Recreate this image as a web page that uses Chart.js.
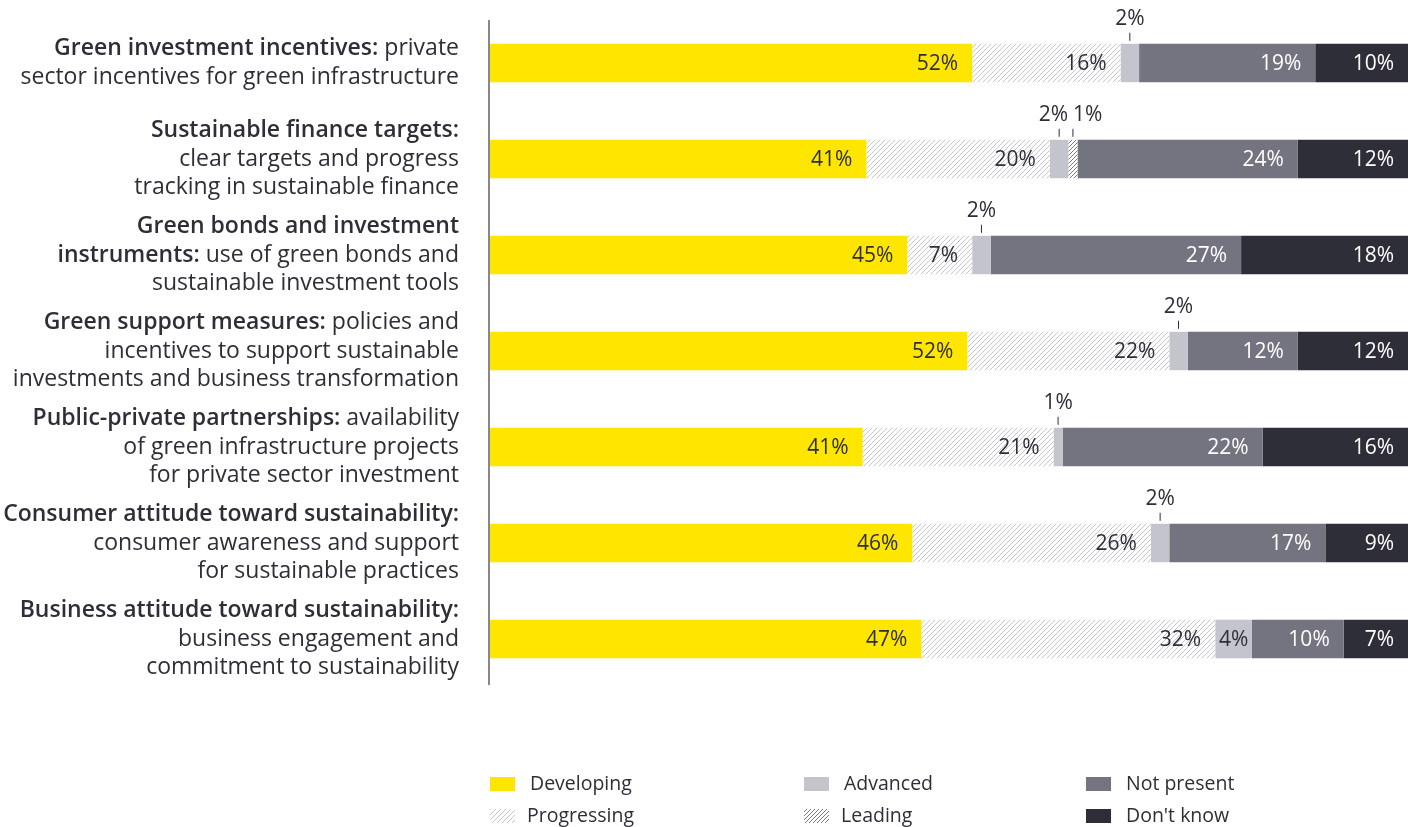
<!DOCTYPE html>
<html>
<head>
<meta charset="utf-8">
<script src="https://cdn.jsdelivr.net/npm/chart.js@4.4.0/dist/chart.umd.min.js"></script>
<style>
  html, body { margin: 0; padding: 0; background: #fff; }
  #wrap { width: 1421px; height: 827px; position: relative; }
</style>
</head>
<body>
<div id="wrap"><canvas id="chart"></canvas></div>
<script>
// categories (bold part first, then regular text), one array of lines per row
const categories = [
  'Green investment incentives',
  'Sustainable finance targets',
  'Green bonds and investment instruments',
  'Green support measures',
  'Public-private partnerships',
  'Consumer attitude toward sustainability',
  'Business attitude toward sustainability'
];
const categoryLines = [
  [['Green investment incentives:', ' private'], ['', 'sector incentives for green infrastructure']],
  [['Sustainable finance targets:', ''], ['', 'clear targets and progress'], ['', 'tracking in sustainable finance']],
  [['Green bonds and investment', ''], ['instruments:', ' use of green bonds and'], ['', 'sustainable investment tools']],
  [['Green support measures:', ' policies and'], ['', 'incentives to support sustainable'], ['', 'investments and business transformation']],
  [['Public-private partnerships:', ' availability'], ['', 'of green infrastructure projects'], ['', 'for private sector investment']],
  [['Consumer attitude toward sustainability:', ''], ['', 'consumer awareness and support'], ['', 'for sustainable practices']],
  [['Business attitude toward sustainability:', ''], ['', 'business engagement and'], ['', 'commitment to sustainability']]
];

// series values (%)
const seriesNames = ['Developing', 'Progressing', 'Advanced', 'Leading', 'Not present', "Don't know"];
const developing  = [52, 41, 45, 52, 41, 46, 47];
const progressing = [16, 20, 7, 22, 21, 26, 32];
const advanced    = [2, 2, 2, 2, 1, 2, 4];
const leading     = [0, 1, 0, 0, 0, 0, 0];
const notPresent  = [19, 24, 27, 12, 22, 17, 10];
const dontKnow    = [10, 12, 18, 12, 16, 9, 7];

const allSeries = [developing, progressing, advanced, leading, notPresent, dontKnow];

// rounded shares don't always add up to 100, so each bar is drawn as share of its row total
const rowTotals = categories.map((c, i) => allSeries.reduce((s, arr) => s + arr[i], 0));

const TEXT = '#2e2e38';
const FONT = '"Open Sans", "Noto Sans", sans-serif';

function hatch(lineColor, step) {
  const c = document.createElement('canvas');
  c.width = step; c.height = step;
  const x = c.getContext('2d');
  x.fillStyle = '#ffffff';
  x.fillRect(0, 0, step, step);
  x.strokeStyle = lineColor;
  x.lineWidth = 1;
  x.beginPath();
  x.moveTo(0, step); x.lineTo(step, 0);
  x.moveTo(-1, 1); x.lineTo(1, -1);
  x.moveTo(step - 1, step + 1); x.lineTo(step + 1, step - 1);
  x.stroke();
  return x.createPattern(c, 'repeat');
}

const colors = [
  '#ffe600',
  hatch('#c4c4cc', 5),
  '#c4c4cd',
  hatch('#7a7a86', 4),
  '#747480',
  '#2e2e38'
];
const labelColors = [TEXT, TEXT, TEXT, TEXT, '#ffffff', '#ffffff'];

// draws the wrapped category text left of the axis
const categoryLabels = {
  id: 'categoryLabels',
  afterDraw(chart) {
    const ctx = chart.ctx;
    const yScale = chart.scales.y;
    const right = chart.chartArea.left - 31;
    const lineH = 28.5;
    const bold = '600 23px ' + FONT;
    const reg = '400 23px ' + FONT;
    ctx.save();
    ctx.textBaseline = 'middle';
    ctx.textAlign = 'left';
    categoryLines.forEach((lines, i) => {
      const cy = yScale.getPixelForValue(i);
      lines.forEach((ln, j) => {
        const y = cy + (j - (lines.length - 1) / 2) * lineH;
        ctx.font = bold;
        const wb = ctx.measureText(ln[0]).width;
        ctx.font = reg;
        const wr = ctx.measureText(ln[1]).width;
        const x = right - wb - wr;
        ctx.fillStyle = TEXT;
        ctx.font = bold;
        ctx.fillText(ln[0], x, y);
        ctx.font = reg;
        ctx.fillText(ln[1], x + wb, y);
      });
    });
    // axis line
    ctx.strokeStyle = '#3a3a3a';
    ctx.lineWidth = 1.2;
    ctx.beginPath();
    ctx.moveTo(chart.chartArea.left - 1, 20);
    ctx.lineTo(chart.chartArea.left - 1, 685);
    ctx.stroke();
    ctx.restore();
  }
};

// value labels inside the segments, small ones above with a tick
const valueLabels = {
  id: 'valueLabels',
  afterDatasetsDraw(chart) {
    const ctx = chart.ctx;
    ctx.save();
    ctx.textBaseline = 'middle';
    chart.data.datasets.forEach((ds, d) => {
      const meta = chart.getDatasetMeta(d);
      meta.data.forEach((el, i) => {
        const v = allSeries[d][i];
        if (!v) return;
        const left = el.base, right = el.x;
        const w = right - left;
        const txt = v + '%';
        if (v <= 2) {
          const cx = (left + right) / 2;
          const top = el.y - el.height / 2;
          ctx.strokeStyle = TEXT;
          ctx.lineWidth = 1;
          ctx.beginPath();
          ctx.moveTo(cx, top - 11);
          ctx.lineTo(cx, top - 3);
          ctx.stroke();
          ctx.font = '400 21px ' + FONT;
          ctx.fillStyle = TEXT;
          if (d === 3) {
            ctx.textAlign = 'left';
            ctx.fillText(txt, cx, top - 25);
          } else if (d === 2 && leading[i] > 0) {
            // make room for the neighbouring small label
            ctx.textAlign = 'right';
            ctx.fillText(txt, cx + 9, top - 25);
          } else {
            ctx.textAlign = 'center';
            ctx.fillText(txt, cx, top - 25);
          }
        } else {
          ctx.font = '400 21px ' + FONT;
          const tw = ctx.measureText(txt).width;
          const pad = Math.max(2, Math.min(14, (w - tw) / 2));
          ctx.textAlign = 'right';
          ctx.fillStyle = labelColors[d];
          ctx.fillText(txt, right - pad, el.y + 1);
        }
      });
    });
    ctx.restore();
  }
};

// legend in three columns of two
const legendGrid = {
  id: 'legendGrid',
  afterDraw(chart) {
    const ctx = chart.ctx;
    const colX = [490, 804, 1086];
    const rowY = [784, 816];
    ctx.save();
    ctx.textBaseline = 'middle';
    ctx.textAlign = 'left';
    ctx.font = '400 19.5px ' + FONT;
    seriesNames.forEach((name, k) => {
      const col = Math.floor(k / 2), row = k % 2;
      const x = colX[col], y = rowY[row];
      ctx.fillStyle = colors[k];
      ctx.fillRect(x, y - 7, 25, 14);
      ctx.fillStyle = TEXT;
      ctx.fillText(name, x + (row === 1 && col < 2 ? 37 : 40), y);
    });
    ctx.restore();
  }
};

new Chart(document.getElementById('chart'), {
  type: 'bar',
  data: {
    labels: categories,
    datasets: seriesNames.map((name, k) => ({
      label: name,
      data: allSeries[k].map((v, i) => v / rowTotals[i] * 100),
      backgroundColor: colors[k],
      borderWidth: 0,
      barPercentage: 0.4,
      categoryPercentage: 1
    }))
  },
  options: {
    indexAxis: 'y',
    responsive: true,
    maintainAspectRatio: false,
    animation: false,
    layout: { padding: { left: 490, right: 13, top: 15, bottom: 140 } },
    scales: {
      x: { stacked: true, min: 0, max: 100, display: false },
      y: { stacked: true, display: false }
    },
    plugins: {
      legend: { display: false },
      tooltip: { enabled: false }
    }
  },
  plugins: [categoryLabels, valueLabels, legendGrid]
});
</script>
</body>
</html>
